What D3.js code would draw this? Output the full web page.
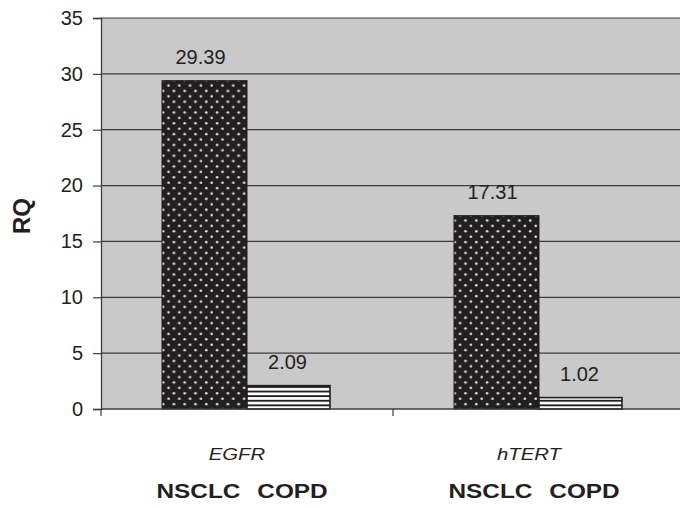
<!DOCTYPE html>
<html>
<head>
<meta charset="utf-8">
<script src="https://cdn.jsdelivr.net/npm/d3@7"></script>
<style>
  body { margin: 0; background: #fff; }
  svg { display: block; font-family: "Liberation Sans", Arial, sans-serif; }
</style>
</head>
<body>
<svg width="680" height="508"></svg>
<script>
// data
let genes = ["EGFR", "hTERT"];
let groups = ["NSCLC", "COPD"];
let nsclcValues = [29.39, 17.31];
let copdValues = [2.09, 1.02];
let yTicks = [0, 5, 10, 15, 20, 25, 30, 35];

let margin = {top: 18, right: -5, bottom: 99, left: 101};
let width = 680 - margin.left - margin.right;
let height = 508 - margin.top - margin.bottom;

let svg = d3.select("svg");

// patterns
let defs = svg.append("defs");
let dots = defs.append("pattern")
    .attr("id", "dots")
    .attr("patternUnits", "userSpaceOnUse")
    .attr("width", 10.8).attr("height", 10.8);
dots.append("rect").attr("width", 10.8).attr("height", 10.8).attr("fill", "#231f20");
dots.append("circle").attr("cx", 2.7).attr("cy", 2.7).attr("r", 1.3).attr("fill", "#e4e4e4");
dots.append("circle").attr("cx", 8.1).attr("cy", 8.1).attr("r", 1.3).attr("fill", "#e4e4e4");

let stripes = defs.append("pattern")
    .attr("id", "stripes")
    .attr("patternUnits", "userSpaceOnUse")
    .attr("width", 10).attr("height", 4.6);
stripes.append("rect").attr("width", 10).attr("height", 4.6).attr("fill", "#fff");
stripes.append("rect").attr("y", 0).attr("width", 10).attr("height", 1.9).attr("fill", "#231f20");

let g = svg.append("g").attr("transform", "translate(" + margin.left + "," + margin.top + ")");

let x = d3.scaleBand().domain(genes).range([0, width]);
let y = d3.scaleLinear().domain([0, 35]).range([height, 0]);
let barW = 85;

// plot background
g.append("rect")
    .attr("width", width).attr("height", height)
    .attr("fill", "#c9c9ca");

// grid lines
g.selectAll(".grid")
    .data(yTicks.filter(d => d > 0))
    .join("line")
    .attr("x1", 0).attr("x2", width)
    .attr("y1", d => y(d)).attr("y2", d => y(d))
    .attr("stroke", "#3c3c3c").attr("stroke-width", 1.2);

// NSCLC bars
g.selectAll(".nsclc")
    .data(genes)
    .join("rect")
    .attr("x", d => x(d) + x.bandwidth() / 2 - barW)
    .attr("y", (d, i) => y(nsclcValues[i]))
    .attr("width", barW)
    .attr("height", (d, i) => height - y(nsclcValues[i]))
    .attr("fill", "url(#dots)")
    .attr("stroke", "#231f20").attr("stroke-width", 1);

// COPD bars
g.selectAll(".copd")
    .data(genes)
    .join("rect")
    .attr("x", d => x(d) + x.bandwidth() / 2)
    .attr("y", (d, i) => y(copdValues[i]))
    .attr("width", barW - 2)
    .attr("height", (d, i) => height - y(copdValues[i]))
    .attr("fill", "url(#stripes)")
    .attr("stroke", "#231f20").attr("stroke-width", 1.6);

// value labels
g.selectAll(".lab1")
    .data(genes)
    .join("text")
    .attr("x", d => x(d) + x.bandwidth() / 2 - barW / 2 - 4)
    .attr("y", (d, i) => y(nsclcValues[i]) - 17)
    .attr("text-anchor", "middle")
    .style("font-size", "20px").style("fill", "#231f20")
    .text((d, i) => nsclcValues[i].toFixed(2));

g.selectAll(".lab2")
    .data(genes)
    .join("text")
    .attr("x", d => x(d) + x.bandwidth() / 2 + barW / 2 - 2)
    .attr("y", (d, i) => y(copdValues[i]) - 17)
    .attr("text-anchor", "middle")
    .style("font-size", "20px").style("fill", "#231f20")
    .text((d, i) => copdValues[i].toFixed(2));

// y axis
let yAxis = g.append("g")
    .call(d3.axisLeft(y).tickValues(yTicks).tickSize(8).tickPadding(10));
yAxis.attr("font-family", null).attr("font-size", null);
yAxis.select(".domain").attr("stroke", "#3c3c3c").attr("stroke-width", 1.3);
yAxis.selectAll(".tick line").attr("stroke", "#3c3c3c").attr("stroke-width", 1.2);
yAxis.selectAll("text")
    .style("font-size", "20px").style("fill", "#231f20");

// x axis
let xAxisG = g.append("g").attr("transform", "translate(0," + height + ")");
xAxisG.append("line")
    .attr("x1", 0).attr("x2", width)
    .attr("stroke", "#3c3c3c").attr("stroke-width", 1.3);
xAxisG.selectAll(".xt")
    .data([0].concat(genes.map(d => x(d) + x.bandwidth())))
    .join("line")
    .attr("x1", d => d).attr("x2", d => d)
    .attr("y1", 0).attr("y2", 7)
    .attr("stroke", "#3c3c3c").attr("stroke-width", 1.2);

// stretch text a bit wider, as in the original figure
function stretch(sel, k) {
  sel.each(function () {
    let len = this.getComputedTextLength();
    d3.select(this).attr("textLength", len * k).attr("lengthAdjust", "spacingAndGlyphs");
  });
}

// gene names
g.selectAll(".gene")
    .data(genes)
    .join("text")
    .attr("x", d => x(d) + x.bandwidth() / 2 - 10)
    .attr("y", height + 51)
    .attr("text-anchor", "middle")
    .style("font-size", "16px").style("font-style", "italic").style("fill", "#231f20")
    .text(d => d)
    .call(stretch, 1.27);

// group labels under each bar
genes.forEach(function (gene) {
  g.selectAll(".grp-" + gene)
      .data(groups)
      .join("text")
      .attr("x", (d, i) => x(gene) + x.bandwidth() / 2 + (i === 0 ? -barW / 2 - 6 : barW / 2 + 3))
      .attr("y", height + 89)
      .attr("text-anchor", "middle")
      .style("font-size", "21px").style("font-weight", "bold").style("fill", "#231f20")
      .text(d => d)
      .call(stretch, 1.16);
});

// axis title
svg.append("text")
    .attr("transform", "translate(30,216) rotate(-90)")
    .attr("text-anchor", "middle")
    .style("font-size", "24px").style("font-weight", "bold").style("fill", "#231f20")
    .text("RQ");
</script>
</body>
</html>
